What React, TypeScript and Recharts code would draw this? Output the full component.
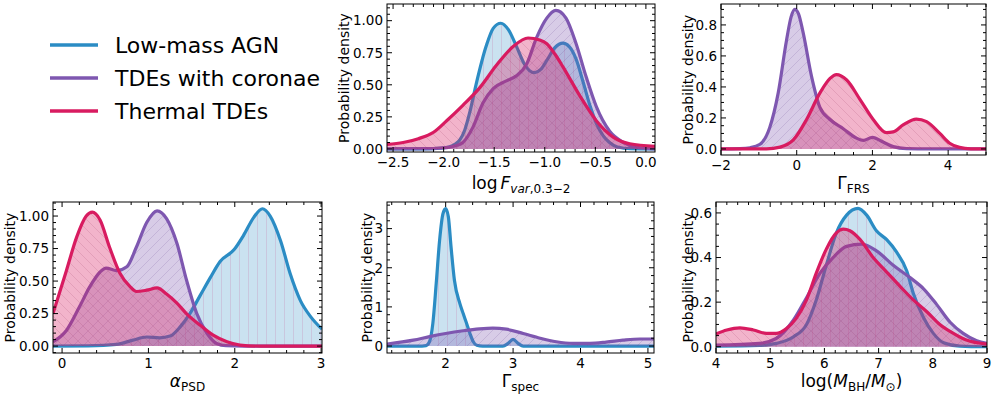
import React from 'react';
import { ComposedChart, Area, XAxis, YAxis } from 'recharts';

const FONT = '"DejaVu Sans", sans-serif';
const BLUE = '#2b8cc4';
const PURPLE = '#7e57b0';
const RED = '#d81b60';

const legendLabels = ['Low-mass AGN', 'TDEs with coronae', 'Thermal TDEs'];
const yTitle = 'Probability density';

// ---------- Panel A: log Fvar ----------
const fvarAgnX = [-2.56, -2.3, -2.1, -1.95, -1.88, -1.84, -1.79, -1.74, -1.68, -1.58, -1.51, -1.435, -1.36, -1.28, -1.2, -1.15, -1.1, -1.04, -0.98, -0.9, -0.82, -0.76, -0.69, -0.62, -0.55, -0.49, -0.42, -0.36, -0.28, -0.15, 0.09];
const fvarAgnY = [0, 0, 0.003, 0.015, 0.04, 0.07, 0.15, 0.29, 0.5, 0.8, 0.94, 0.98, 0.93, 0.8, 0.66, 0.61, 0.595, 0.62, 0.69, 0.79, 0.825, 0.8, 0.7, 0.52, 0.33, 0.2, 0.1, 0.05, 0.015, 0.002, 0];
const fvarCorX = [-2.56, -2.1, -1.97, -1.88, -1.81, -1.71, -1.61, -1.51, -1.38, -1.28, -1.18, -1.08, -0.98, -0.89, -0.79, -0.69, -0.59, -0.49, -0.36, -0.22, -0.09, 0.09];
const fvarCorY = [0, 0.003, 0.01, 0.025, 0.05, 0.17, 0.36, 0.47, 0.53, 0.57, 0.66, 0.87, 1.02, 1.08, 1.02, 0.82, 0.56, 0.33, 0.14, 0.05, 0.012, 0];
const fvarThX = [-2.56, -2.4, -2.25, -2.1, -1.97, -1.81, -1.64, -1.48, -1.31, -1.165, -1.05, -0.98, -0.9, -0.82, -0.65, -0.49, -0.32, -0.16, 0.09];
const fvarThY = [0.035, 0.05, 0.08, 0.13, 0.22, 0.34, 0.48, 0.65, 0.8, 0.865, 0.85, 0.82, 0.74, 0.64, 0.41, 0.22, 0.09, 0.04, 0.02];

// ---------- Panel B: Gamma FRS ----------
const frsCorX = [-2, -1.5, -1.23, -0.97, -0.71, -0.49, -0.27, -0.15, -0.05, 0.05, 0.17, 0.39, 0.61, 0.88, 1.23, 1.58, 1.76, 2.0, 2.28, 2.55, 2.9, 3.5, 5];
const frsCorY = [0, 0.002, 0.008, 0.03, 0.14, 0.36, 0.7, 0.85, 0.9, 0.87, 0.75, 0.47, 0.27, 0.19, 0.13, 0.07, 0.055, 0.075, 0.045, 0.015, 0.002, 0, 0];
const frsThX = [-2, -0.8, -0.44, -0.09, 0.26, 0.61, 0.88, 1.05, 1.32, 1.67, 2.02, 2.37, 2.55, 2.81, 3.16, 3.43, 3.78, 4.04, 4.3, 4.6, 5];
const frsThY = [0, 0.001, 0.012, 0.058, 0.19, 0.36, 0.455, 0.48, 0.445, 0.32, 0.19, 0.105, 0.11, 0.155, 0.193, 0.176, 0.1, 0.037, 0.01, 0.001, 0];

// ---------- Panel C: alpha PSD ----------
const psdAgnX = [-0.105, 0.3, 0.63, 0.82, 0.98, 1.13, 1.25, 1.37, 1.48, 1.6, 1.72, 1.83, 1.99, 2.1, 2.22, 2.32, 2.41, 2.53, 2.64, 2.76, 2.88, 3.01];
const psdAgnY = [0, 0.002, 0.013, 0.046, 0.07, 0.064, 0.077, 0.15, 0.25, 0.39, 0.53, 0.65, 0.74, 0.85, 0.99, 1.056, 1.0, 0.81, 0.56, 0.35, 0.225, 0.13];
const psdCorX = [-0.105, 0.05, 0.2, 0.32, 0.44, 0.51, 0.63, 0.75, 0.86, 0.98, 1.1, 1.21, 1.33, 1.44, 1.56, 1.68, 1.79, 1.9, 2.1, 3.01];
const psdCorY = [0.033, 0.12, 0.3, 0.455, 0.57, 0.6, 0.58, 0.61, 0.76, 0.95, 1.04, 0.98, 0.79, 0.51, 0.25, 0.097, 0.02, 0.003, 0, 0];
const psdThX = [-0.105, 0.05, 0.17, 0.28, 0.35, 0.44, 0.55, 0.67, 0.79, 0.86, 0.98, 1.1, 1.21, 1.33, 1.44, 1.6, 1.75, 1.91, 2.06, 2.3, 3.01];
const psdThY = [0.25, 0.58, 0.84, 1.0, 1.03, 0.97, 0.76, 0.56, 0.455, 0.42, 0.43, 0.447, 0.4, 0.33, 0.25, 0.16, 0.084, 0.033, 0.008, 0, 0];

// ---------- Panel D: Gamma spec ----------
const specAgnX = [1.13, 1.65, 1.71, 1.76, 1.81, 1.86, 1.91, 1.96, 2.0, 2.04, 2.08, 2.13, 2.21, 2.26, 2.31, 2.36, 2.41, 2.46, 2.55, 2.85, 2.92, 3.0, 3.08, 3.15, 5.09];
const specAgnY = [0, 0, 0.01, 0.11, 0.58, 1.6, 2.7, 3.38, 3.51, 3.3, 2.53, 1.68, 1.09, 0.83, 0.58, 0.32, 0.11, 0.02, 0, 0, 0.06, 0.17, 0.06, 0, 0];
const specCorX = [1.13, 1.52, 1.76, 2.0, 2.26, 2.5, 2.7, 2.9, 3.15, 3.4, 3.64, 3.89, 4.14, 4.38, 4.63, 4.88, 5.09];
const specCorY = [0.05, 0.15, 0.24, 0.32, 0.39, 0.44, 0.46, 0.43, 0.32, 0.2, 0.11, 0.07, 0.07, 0.1, 0.15, 0.18, 0.18];

// ---------- Panel E: log MBH ----------
const mbhAgnX = [4.0, 4.8, 5.11, 5.43, 5.67, 5.85, 6.04, 6.22, 6.41, 6.62, 6.78, 6.96, 7.15, 7.33, 7.52, 7.64, 7.83, 8.01, 8.2, 8.5, 9.0];
const mbhAgnY = [0.003, 0.006, 0.015, 0.045, 0.1, 0.21, 0.37, 0.51, 0.59, 0.62, 0.59, 0.52, 0.48, 0.425, 0.34, 0.24, 0.13, 0.06, 0.018, 0.003, 0];
const mbhCorX = [4.0, 4.8, 5.11, 5.43, 5.67, 5.92, 6.16, 6.41, 6.69, 6.96, 7.27, 7.58, 7.83, 8.07, 8.32, 8.56, 8.81, 9.0];
const mbhCorY = [0.007, 0.015, 0.037, 0.12, 0.22, 0.33, 0.4, 0.45, 0.46, 0.43, 0.365, 0.31, 0.26, 0.19, 0.11, 0.06, 0.027, 0.015];
const mbhThX = [4.0, 4.2, 4.44, 4.69, 4.93, 5.11, 5.3, 5.48, 5.67, 5.85, 6.04, 6.22, 6.35, 6.47, 6.66, 6.9, 7.15, 7.4, 7.64, 7.89, 8.13, 8.38, 8.62, 9.0];
const mbhThY = [0.057, 0.075, 0.085, 0.075, 0.06, 0.06, 0.082, 0.127, 0.21, 0.33, 0.44, 0.51, 0.527, 0.52, 0.48, 0.4, 0.335, 0.27, 0.21, 0.157, 0.1, 0.06, 0.03, 0.012];

// ---------- Tick values / labels ----------
const fvarXTicks = [-2.5, -2.0, -1.5, -1.0, -0.5, 0.0];
const fvarXLabels = ['\u22122.5', '\u22122.0', '\u22121.5', '\u22121.0', '\u22120.5', '0.0'];
const fvarYTicks = [0, 0.25, 0.5, 0.75, 1.0];
const fvarYLabels = ['0.00', '0.25', '0.50', '0.75', '1.00'];
const frsXTicks = [-2, 0, 2, 4];
const frsXLabels = ['\u22122', '0', '2', '4'];
const frsYTicks = [0, 0.2, 0.4, 0.6, 0.8];
const frsYLabels = ['0.0', '0.2', '0.4', '0.6', '0.8'];
const psdXTicks = [0, 1, 2, 3];
const psdXLabels = ['0', '1', '2', '3'];
const psdYTicks = [0, 0.25, 0.5, 0.75, 1.0];
const psdYLabels = ['0.00', '0.25', '0.50', '0.75', '1.00'];
const specXTicks = [2, 3, 4, 5];
const specXLabels = ['2', '3', '4', '5'];
const specYTicks = [0, 1, 2, 3];
const specYLabels = ['0', '1', '2', '3'];
const mbhXTicks = [4, 5, 6, 7, 8, 9];
const mbhXLabels = ['4', '5', '6', '7', '8', '9'];
const mbhYTicks = [0, 0.2, 0.4, 0.6];
const mbhYLabels = ['0.0', '0.2', '0.4', '0.6'];

type Series = { key: string; xs: number[]; ys: number[]; color: string; pat: string };

const stepTicks = (lo: number, hi: number, step: number) => {
  const out: number[] = [];
  const start = Math.ceil(lo / step - 1e-9);
  const end = Math.floor(hi / step + 1e-9);
  for (let i = start; i <= end; i++) out.push(Math.round(i * step * 1e6) / 1e6);
  return out;
};

const buildTable = (series: Series[]) => {
  const map = new Map<number, any>();
  series.forEach((s) => {
    s.xs.forEach((x, i) => {
      const row = map.get(x) || { x };
      row[s.key] = s.ys[i];
      map.set(x, row);
    });
  });
  return Array.from(map.values()).sort((a, b) => a.x - b.x);
};

const findMajor = (v: number, majors: number[]) => majors.findIndex((m) => Math.abs(m - v) < 1e-6);

type PanelProps = {
  frame: { x0: number; x1: number; y0: number; y1: number };
  xd: [number, number];
  yd: [number, number];
  xTicks: number[];
  xLabels: string[];
  xMinor: number;
  yTicks: number[];
  yLabels: string[];
  yMinor: number;
  series: Series[];
};

const ML = 70, MR = 12, MT = 6, MB = 40;
const MAJ = 5, MIN = 3;
const TFS = 13.5;

function Panel(p: PanelProps) {
  const { frame, xd, yd } = p;
  const W = frame.x1 - frame.x0 + ML + MR;
  const H = frame.y1 - frame.y0 + MT + MB;
  const data = buildTable(p.series);
  const xt = stepTicks(xd[0], xd[1], p.xMinor);
  const yt = stepTicks(yd[0], yd[1], p.yMinor);
  const yb = frame.y1 - frame.y0 + MT;

  const bottomTick = (t: any) => {
    const i = findMajor(t.payload.value, p.xTicks);
    const len = i >= 0 ? MAJ : MIN;
    return (
      <g>
        <line x1={t.x} x2={t.x} y1={yb} y2={yb - len} stroke="#000" strokeWidth={1} />
        {i >= 0 && (
          <text x={t.x} y={yb + 15} textAnchor="middle" fontSize={TFS} fontFamily={FONT} fill="#000">
            {p.xLabels[i]}
          </text>
        )}
      </g>
    );
  };
  const topTick = (t: any) => {
    const i = findMajor(t.payload.value, p.xTicks);
    const len = i >= 0 ? MAJ : MIN;
    return <line x1={t.x} x2={t.x} y1={MT} y2={MT + len} stroke="#000" strokeWidth={1} />;
  };
  const leftTick = (t: any) => {
    const i = findMajor(t.payload.value, p.yTicks);
    const len = i >= 0 ? MAJ : MIN;
    return (
      <g>
        <line x1={ML} x2={ML + len} y1={t.y} y2={t.y} stroke="#000" strokeWidth={1} />
        {i >= 0 && (
          <text x={ML - 4} y={t.y + 4.8} textAnchor="end" fontSize={TFS} fontFamily={FONT} fill="#000">
            {p.yLabels[i]}
          </text>
        )}
      </g>
    );
  };
  const rightTick = (t: any) => {
    const i = findMajor(t.payload.value, p.yTicks);
    const len = i >= 0 ? MAJ : MIN;
    const xr = W - MR;
    return <line x1={xr} x2={xr - len} y1={t.y} y2={t.y} stroke="#000" strokeWidth={1} />;
  };

  const axisCommon = {
    type: 'number' as const,
    allowDataOverflow: true,
    interval: 0 as const,
    tickSize: 0,
    tickMargin: 0,
    tickLine: false,
    axisLine: false,
  };

  return (
    <div style={{ position: 'absolute', left: frame.x0 - ML, top: frame.y0 - MT }}>
      <ComposedChart width={W} height={H} data={data} margin={{ left: ML - 1, right: MR - 1, top: MT - 1, bottom: MB - 1 }}>
        <XAxis {...axisCommon} dataKey="x" domain={xd} ticks={xt} height={1} tick={bottomTick} />
        <XAxis {...axisCommon} xAxisId="top" orientation="top" dataKey="x" domain={xd} ticks={xt} height={1} tick={topTick} />
        <YAxis {...axisCommon} domain={yd} ticks={yt} width={1} tick={leftTick} />
        <YAxis {...axisCommon} yAxisId="right" orientation="right" domain={yd} ticks={yt} width={1} tick={rightTick} />
        {p.series.map((s) => (
          <Area
            key={s.key}
            dataKey={s.key}
            type="monotone"
            baseValue={0}
            connectNulls
            stroke={s.color}
            strokeWidth={3.2}
            fill={`url(#${s.pat})`}
            fillOpacity={1}
            dot={false}
            activeDot={false}
            isAnimationActive={false}
          />
        ))}
      </ComposedChart>
      <svg width={W} height={H} style={{ position: 'absolute', left: 0, top: 0, pointerEvents: 'none' }}>
        <rect x={ML} y={MT} width={W - ML - MR} height={H - MT - MB} fill="none" stroke="#000" strokeWidth={1} />
      </svg>
    </div>
  );
}

const agn = (xs: number[], ys: number[]): Series => ({ key: 'agn', xs, ys, color: BLUE, pat: 'hatchBlue' });
const cor = (xs: number[], ys: number[]): Series => ({ key: 'cor', xs, ys, color: PURPLE, pat: 'hatchPurple' });
const th = (xs: number[], ys: number[]): Series => ({ key: 'th', xs, ys, color: RED, pat: 'hatchRed' });

const SUB = 12;
const XFS = 17;

export default function App() {
  const legendColors = [BLUE, PURPLE, RED];
  return (
    <div style={{ position: 'absolute', left: 0, top: 0, width: 996, height: 395, background: '#fff', overflow: 'hidden' }}>
      <svg width={0} height={0} style={{ position: 'absolute' }}>
        <defs>
          <pattern id="hatchBlue" patternUnits="userSpaceOnUse" width={9} height={9}>
            <rect width={9} height={9} fill={BLUE} fillOpacity={0.25} />
            <line x1={4.5} y1={0} x2={4.5} y2={9} stroke="#c9a6c8" strokeOpacity={0.45} strokeWidth={1} />
          </pattern>
          <pattern id="hatchPurple" patternUnits="userSpaceOnUse" width={10} height={10}>
            <rect width={10} height={10} fill={PURPLE} fillOpacity={0.3} />
            <path d="M0,10 L10,0 M-1,1 L1,-1 M9,11 L11,9" stroke="#6a4a98" strokeOpacity={0.18} strokeWidth={1} />
          </pattern>
          <pattern id="hatchRed" patternUnits="userSpaceOnUse" width={10} height={10}>
            <rect width={10} height={10} fill={RED} fillOpacity={0.33} />
            <path d="M0,0 L10,10 M-1,9 L1,11 M9,-1 L11,1" stroke="#8a2050" strokeOpacity={0.15} strokeWidth={1} />
          </pattern>
        </defs>
      </svg>

      <Panel
        frame={{ x0: 387, x1: 655, y0: 4, y1: 152 }}
        xd={[-2.56, 0.09]}
        yd={[-0.024, 1.13]}
        xTicks={fvarXTicks}
        xLabels={fvarXLabels}
        xMinor={0.1}
        yTicks={fvarYTicks}
        yLabels={fvarYLabels}
        yMinor={0.05}
        series={[agn(fvarAgnX, fvarAgnY), cor(fvarCorX, fvarCorY), th(fvarThX, fvarThY)]}
      />
      <Panel
        frame={{ x0: 721, x1: 986, y0: 4, y1: 155 }}
        xd={[-2, 5]}
        yd={[-0.039, 0.935]}
        xTicks={frsXTicks}
        xLabels={frsXLabels}
        xMinor={0.5}
        yTicks={frsYTicks}
        yLabels={frsYLabels}
        yMinor={0.05}
        series={[cor(frsCorX, frsCorY), th(frsThX, frsThY)]}
      />
      <Panel
        frame={{ x0: 53, x1: 322, y0: 202, y1: 353 }}
        xd={[-0.105, 3.01]}
        yd={[-0.053, 1.108]}
        xTicks={psdXTicks}
        xLabels={psdXLabels}
        xMinor={0.2}
        yTicks={psdYTicks}
        yLabels={psdYLabels}
        yMinor={0.05}
        series={[agn(psdAgnX, psdAgnY), cor(psdCorX, psdCorY), th(psdThX, psdThY)]}
      />
      <Panel
        frame={{ x0: 387, x1: 654, y0: 202, y1: 353 }}
        xd={[1.13, 5.09]}
        yd={[-0.178, 3.68]}
        xTicks={specXTicks}
        xLabels={specXLabels}
        xMinor={0.2}
        yTicks={specYTicks}
        yLabels={specYLabels}
        yMinor={0.2}
        series={[agn(specAgnX, specAgnY), cor(specCorX, specCorY)]}
      />
      <Panel
        frame={{ x0: 716, x1: 987, y0: 202, y1: 353 }}
        xd={[4, 9]}
        yd={[-0.028, 0.649]}
        xTicks={mbhXTicks}
        xLabels={mbhXLabels}
        xMinor={0.2}
        yTicks={mbhYTicks}
        yLabels={mbhYLabels}
        yMinor={0.05}
        series={[agn(mbhAgnX, mbhAgnY), cor(mbhCorX, mbhCorY), th(mbhThX, mbhThY)]}
      />

      <svg width={996} height={395} style={{ position: 'absolute', left: 0, top: 0, pointerEvents: 'none' }} fontFamily={FONT}>
        {legendLabels.map((l, i) => (
          <g key={l}>
            <line x1={50} x2={98} y1={45 + i * 33} y2={45 + i * 33} stroke={legendColors[i]} strokeWidth={3.3} />
            <text x={115} y={53 + i * 33} fontSize={22} fill="#000">{l}</text>
          </g>
        ))}

        {[
          [349, 78],
          [693, 79.5],
          [15, 277.5],
          [372, 277.5],
          [693, 277.5],
        ].map(([x, y], i) => (
          <text key={i} transform={`translate(${x},${y}) rotate(-90)`} textAnchor="middle" fontSize={14} fill="#000">
            {yTitle}
          </text>
        ))}

        <text x={521} y={189} textAnchor="middle" fontSize={XFS} fill="#000">
          <tspan>log</tspan>
          <tspan dx={3} fontStyle="italic">F</tspan>
          <tspan fontSize={SUB} dy={4}>
            <tspan fontStyle="italic">var</tspan>
            <tspan>,0.3{'\u2212'}2</tspan>
          </tspan>
        </text>
        <text x={853.5} y={189} textAnchor="middle" fontSize={XFS} fill="#000">
          <tspan>Γ</tspan>
          <tspan fontSize={SUB} dy={4}>FRS</tspan>
        </text>
        <text x={187.5} y={387} textAnchor="middle" fontSize={XFS} fill="#000">
          <tspan fontStyle="italic">α</tspan>
          <tspan fontSize={SUB} dy={4}>PSD</tspan>
        </text>
        <text x={520.5} y={387} textAnchor="middle" fontSize={XFS} fill="#000">
          <tspan>Γ</tspan>
          <tspan fontSize={SUB} dy={4}>spec</tspan>
        </text>
        <text x={851.5} y={387} textAnchor="middle" fontSize={XFS} fill="#000">
          <tspan>log(</tspan>
          <tspan fontStyle="italic">M</tspan>
          <tspan fontSize={SUB} dy={4}>BH</tspan>
          <tspan dy={-4}>/</tspan>
          <tspan fontStyle="italic">M</tspan>
          <tspan fontSize={SUB} dy={4}>{'\u2299'}</tspan>
          <tspan dy={-4}>)</tspan>
        </text>
      </svg>
    </div>
  );
}
